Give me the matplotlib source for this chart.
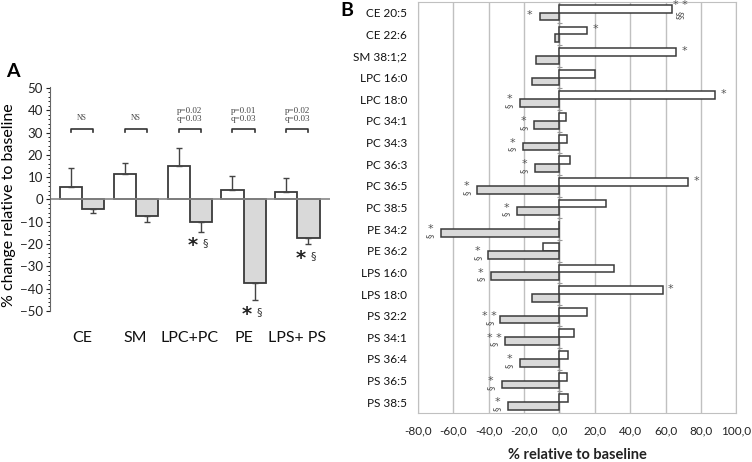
"""Two-panel lipid change figure: (A) class-level means, (B) species-level changes."""
import numpy as np
import matplotlib.pyplot as plt
from matplotlib.ticker import MultipleLocator, FuncFormatter

plt.rcParams["font.family"] = ["Lato", "DejaVu Sans"]

# --- Panel A data ---
groups = ["CE", "SM", "LPC+PC", "PE", "LPS+ PS"]
white_a = [5.6, 11.6, 15.0, 4.2, 3.3]
white_a_err = [8.4, 4.9, 8.0, 6.1, 6.4]
gray_a = [-4.2, -7.3, -10.3, -37.3, -17.4]
gray_a_err = [1.8, 2.7, 4.1, 8.0, 2.6]
sig_text = ["NS", "NS", "p=0.02\nq=0.03", "p=0.01\nq=0.03", "p=0.02\nq=0.03"]
gray_a_marks = ["", "", "*", "*", "*"]

# --- Panel B data ---
species = ["CE 20:5", "CE 22:6", "SM 38:1;2", "LPC 16:0", "LPC 18:0", "PC 34:1",
           "PC 34:3", "PC 36:3", "PC 36:5", "PC 38:5", "PE 34:2", "PE 36:2",
           "LPS 16:0", "LPS 18:0", "PS 32:2", "PS 34:1", "PS 36:4", "PS 36:5",
           "PS 38:5"]
white_b = [63.8, 15.8, 66.2, 20.0, 88.1, 3.6, 4.0, 5.7, 73.0, 26.2, 0.0, -9.2,
           31.0, 58.5, 15.5, 8.1, 4.7, 4.0, 4.7]
gray_b = [-11.1, -2.3, -13.2, -15.7, -22.3, -14.2, -20.8, -13.8, -46.4, -24.2,
          -67.0, -40.2, -38.5, -15.8, -33.4, -31.1, -22.5, -32.8, -29.2]
# significance marks: (stars, section signs)
white_stars = ["**", "*", "*", "", "*", "", "", "", "*", "", "", "", "", "*",
               "", "", "", "", ""]
white_sect = ["§§", "", "", "", "", "", "", "", "", "", "", "", "", "", "",
              "", "", "", ""]
gray_stars = ["*", "", "", "", "*", "*", "*", "*", "*", "*", "*", "*", "*", "",
              "**", "**", "*", "*", "*"]
gray_sect = ["", "", "", "", "§", "§", "§", "§", "§", "§", "§", "§", "§", "",
             "§", "§", "§", "§", "§"]

edge = "#3a3a3a"
fill_gray = "#d9d9d9"
grid_col = "#c0c0c0"
mark_col = "#555555"
mk = dict(ha="center", va="center", family="DejaVu Sans", color=mark_col,
          zorder=4, clip_on=False)

fig = plt.figure(figsize=(7.52, 4.62), dpi=100)

# ================= Panel A =================
axA = fig.add_axes([0.0665, 0.327, 0.372, 0.485])
xa = np.arange(len(groups))
w = 0.41
axA.bar(xa - w / 2, white_a, w, color="white", edgecolor=edge, linewidth=1.3)
axA.bar(xa + w / 2, gray_a, w, color=fill_gray, edgecolor=edge, linewidth=1.3)
axA.errorbar(xa - w / 2, white_a, yerr=[np.zeros(len(groups)), white_a_err],
             fmt="none", ecolor="#444444", elinewidth=1, capsize=2.5)
axA.errorbar(xa + w / 2, gray_a, yerr=[gray_a_err, np.zeros(len(groups))],
             fmt="none", ecolor="#444444", elinewidth=1, capsize=2.5)
axA.axhline(0, color="#888888", lw=1.2)

for i in range(len(groups)):
    x0, x1 = xa[i] - w / 2, xa[i] + w / 2
    axA.plot([x0, x0, x1, x1], [30.3, 31.5, 31.5, 30.3], color="#333333", lw=1.2)
    if sig_text[i] == "NS":
        axA.text(xa[i], 36.5, "NS", ha="center", va="center", fontsize=5.5,
                 family="Liberation Serif", color="#444444")
    else:
        axA.text(xa[i], 37.8, sig_text[i], ha="center", va="center",
                 fontsize=6.5, family="Liberation Serif", color="#444444",
                 linespacing=1.0)
    if gray_a_marks[i]:
        ybot = gray_a[i] - gray_a_err[i] - 5.5
        axA.text(x1 - 0.05, ybot - 0.8, "*", ha="right", va="center",
                 fontsize=14, fontweight="bold", family="DejaVu Sans",
                 color="#222222")
        axA.text(x1 + 0.03, ybot + 0.3, "§", ha="left", va="center",
                 fontsize=8, color="#333333", family="DejaVu Sans")

axA.set_xlim(-0.59, 4.6)
axA.set_ylim(-50, 50.5)
axA.yaxis.set_major_locator(MultipleLocator(10))
axA.yaxis.set_minor_locator(MultipleLocator(2))
axA.tick_params(axis="y", labelsize=9.5, length=3, pad=2, colors="#222222")
axA.tick_params(axis="y", which="minor", length=1.5)
axA.set_xticks([])
for s in ["top", "right", "bottom"]:
    axA.spines[s].set_visible(False)
axA.spines["left"].set_color("#666666")
for i, g in enumerate(groups):
    axA.text(xa[i], -62, g, ha="center", va="center", fontsize=11.5,
             color="#111111", clip_on=False)
axA.set_ylabel("% change relative to baseline", fontsize=11.5)
axA.yaxis.set_label_coords(-0.12, 0.47)
fig.text(0.008, 0.845, "A", fontsize=14, fontweight="bold", va="center")

# ================= Panel B =================
axB = fig.add_axes([0.556, 0.106, 0.423, 0.890])
yb = np.arange(len(species))
h = 0.36
axB.barh(yb - h / 2, white_b, h, color="white", edgecolor=edge, linewidth=1.1,
         zorder=3)
axB.barh(yb + h / 2, gray_b, h, color=fill_gray, edgecolor=edge, linewidth=1.1,
         zorder=3)
axB.axvline(0, color="#999999", lw=1.0, zorder=2)
axB.hlines(np.arange(len(species) + 1) - 0.5, -1.3, 1.3, color="#999999",
           lw=0.8, zorder=2)

for i in range(len(species)):
    if white_stars[i]:
        xs = max(white_b[i], 0) + 4.5
        stars = " ".join(white_stars[i])
        if white_sect[i]:
            axB.text(xs, i - 0.36, stars, fontsize=8, **mk)
            axB.text(xs, i + 0.08, white_sect[i], fontsize=6.5, rotation=90, **mk)
        else:
            axB.text(xs, i - h / 2 - 0.05, stars, fontsize=8, **mk)
    if gray_stars[i]:
        xs = gray_b[i] - 6
        stars = " ".join(gray_stars[i])
        if gray_sect[i]:
            axB.text(xs, i + h / 2 - 0.17, stars, fontsize=8, **mk)
            axB.text(xs, i + h / 2 + 0.13, gray_sect[i], fontsize=6.5,
                     rotation=90, **mk)
        else:
            axB.text(xs, i + h / 2 - 0.05, stars, fontsize=8, **mk)

axB.set_xlim(-80, 100)
axB.set_ylim(len(species) - 0.5, -0.5)
axB.xaxis.set_major_locator(MultipleLocator(20))
axB.xaxis.set_major_formatter(FuncFormatter(lambda v, p: f"{v:.1f}".replace(".", ",")))
axB.grid(axis="x", color=grid_col, lw=1.0, zorder=0)
axB.set_yticks(yb)
axB.set_yticklabels(species)
axB.tick_params(axis="y", length=0, labelsize=8.5, pad=8, colors="#111111")
axB.tick_params(axis="x", length=0, labelsize=8.5, pad=9, colors="#222222")
for s in axB.spines.values():
    s.set_color(grid_col)
axB.set_xlabel("% relative to baseline", fontsize=10.5, fontweight="bold",
               labelpad=8, color="#222222")
fig.text(0.453, 0.978, "B", fontsize=14, fontweight="bold", va="center")

fig.savefig("out.png", dpi=100)
plt.close(fig)
